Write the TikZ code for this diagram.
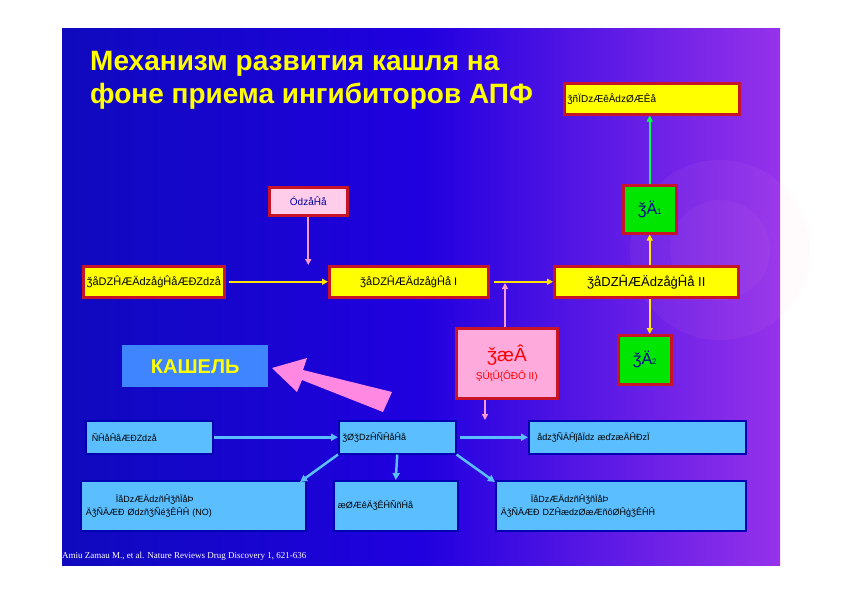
\documentclass[tikz,border=0pt]{standalone}
\usepackage{fontspec}
\setmainfont{Liberation Sans}
\usetikzlibrary{arrows.meta,shadings}
\definecolor{bgblue}{RGB}{15,10,190}
\definecolor{bgpurp}{RGB}{150,50,235}
\definecolor{ybox}{RGB}{255,255,0}
\definecolor{rb}{RGB}{200,20,40}
\definecolor{lb}{RGB}{90,190,255}
\definecolor{pk}{RGB}{255,170,220}
\definecolor{gr}{RGB}{0,230,0}
\newcommand{\mysub}[1]{{\fontsize{8}{9}\selectfont #1}}
\tikzset{
 ybx/.style={draw=rb,line width=2.5pt,fill=ybox,minimum height=31pt,anchor=north west,inner sep=3pt,font=\fontsize{11}{12}\selectfont},
 bbx/.style={draw=blue!70!black,line width=1.5pt,fill=lb,anchor=north west,font=\fontsize{9}{13}\selectfont,align=left},
 gbx/.style={draw=rb,line width=2.5pt,fill=gr,anchor=north west,minimum width=53pt,minimum height=48pt,font=\fontsize{16}{16}\selectfont,text=blue!60!black},
 ya/.style={draw=ybox!80!orange,line width=2pt,-{Triangle[length=6pt,width=6pt]}},
 pa/.style={draw=pk!90!purple,line width=2pt,-{Triangle[length=6pt,width=6pt]}},
 ba/.style={draw=lb,line width=2.5pt,-{Triangle[length=7pt,width=7pt]}},
}
\begin{document}
\begin{tikzpicture}[x=1pt,y=-1pt]
\useasboundingbox (0,0) rectangle (841,595);
\fill[white] (0,0) rectangle (841,595);
\shade[left color=bgblue, right color=bgpurp, middle color=blue!75!violet] (62,28) rectangle (780,565);
\fill[pk,opacity=0.06] (720,250) circle (90);
\fill[pk,opacity=0.05] (720,250) circle (50);
\node[anchor=north west,text=ybox,font=\fontsize{28}{33}\selectfont\bfseries,align=left,inner sep=0] (title) at (90,51) {Механизм развития кашля на\\фоне приема ингибиторов АПФ};
\node[ybx,minimum width=175pt,text width=169pt,align=left,font=\fontsize{10}{10}\selectfont] (top) at (563,82) {ǯñÏDzÆêÂdzØÆÊå};
\node[gbx] (at1) at (622,184) {ǯÄ\mysub{1}};
\node[draw=rb,line width=2.5pt,fill=pk!60!white,anchor=north west,minimum width=78pt,minimum height=28pt,text=blue!60!black,font=\fontsize{10}{10}\selectfont] (ren) at (268,186) {ÓdzåĤå};
\node[ybx,minimum width=141pt] (y1) at (82,265) {ǯåDZĤÆÄdzåģĤåÆĐZdzå};
\node[ybx,minimum width=159pt] (y2) at (328,265) {ǯåDZĤÆÄdzåģĤå I};
\node[ybx,minimum width=184pt,font=\fontsize{13}{13}\selectfont] (y3) at (553,265) {ǯåDZĤÆÄdzåģĤå II};
\node[draw=rb,line width=2.5pt,fill=pk,anchor=north west,minimum width=101pt,minimum height=70pt,text=red,align=center] (ace) at (455,327) {{\fontsize{19}{20}\selectfont ǯæÂ}\\[4pt]{\fontsize{10}{10}\selectfont ŞÚţÛ\{ÔĐÔ II)}};
\node[gbx,minimum height=49pt] (at2) at (617,334) {ǯÄ\mysub{2}};
\node[fill=lb!70!blue,anchor=north west,minimum width=146pt,minimum height=42pt,text=ybox,font=\fontsize{20}{20}\selectfont\bfseries] (cough) at (122,345) {КАШЕЛЬ};
\fill[pk!80!magenta] (392,392) -- (383,412) -- (302,380) -- (297,392) -- (272,368) -- (307,358) -- (303,370) -- cycle;
\node[bbx,minimum width=127pt,minimum height=33pt,text width=115pt] (b1) at (85,420) {ÑĤåĤåÆĐZdzå};
\node[bbx,minimum width=117pt,minimum height=33pt,text width=110pt] (b2) at (338,420) {ǯØǯDzĤÑĤåĤå};
\node[bbx,minimum width=217pt,minimum height=33pt,text width=200pt] (b3) at (528,420) {ådzǯÑÄĤǰåÏdz æďzæÄĤĐzÏ};
\node[bbx,minimum width=225pt,minimum height=50pt,text width=215pt] (c1) at (80,480) {\hspace*{30pt}ÏåDzÆÄdzñĤǯñÏåÞ\\ÄǯÑÄÆÐ ØdzñǯÑéǯÊĤĤ (NO)};
\node[bbx,minimum width=124pt,minimum height=50pt,text width=116pt] (c2) at (333,480) {æØÆêÄǯÊĤÑñĤå};
\node[bbx,minimum width=250pt,minimum height=50pt,text width=240pt] (c3) at (495,480) {\hspace*{30pt}ÏåDzÆÄdzñĤǯñÏåÞ\\ÄǯÑÄÆÐ DZĤædzØæÆñôØĤģǯÊĤĤ};
\node[anchor=west,text=white,font=\fontsize{9}{9}\selectfont,inner sep=0] (cite) at (62,556) {\fontspec{Liberation Serif}Amiu Zamau M., et al. Nature Reviews Drug Discovery 1, 621-636};
\draw[ya] (y1.east) ++(3,0) -- (y2.west);
\draw[ya] (y2.east) ++(4,0) -- (y3.west);
\draw[pa] (ren.south) -- (y2.north -| ren.south);
\draw[pa] (ace.north -| 505,0) -- (505,283);
\draw[ya] (y3.north -| at1.south) -- (at1.south);
\draw[-{Triangle[length=6pt,width=6pt]},line width=2pt,draw=green!70!cyan] (at1.north) -- (top.south -| at1.north);
\draw[ya] (y3.south -| at1.south) -- (at1.south |- at2.north);
\draw[pa] (ace.south -| 485,0) -- (485,420);
\draw[ba] (b1.east) -- (b2.west);
\draw[ba] (b2.east) ++(3,0) -- (b3.west);
\draw[ba] (b2.south west) -- (300,482);
\draw[ba] (b2.south) -- (c2.north);
\draw[ba] (b2.south east) -- (495,482);
\end{tikzpicture}
\end{document}
